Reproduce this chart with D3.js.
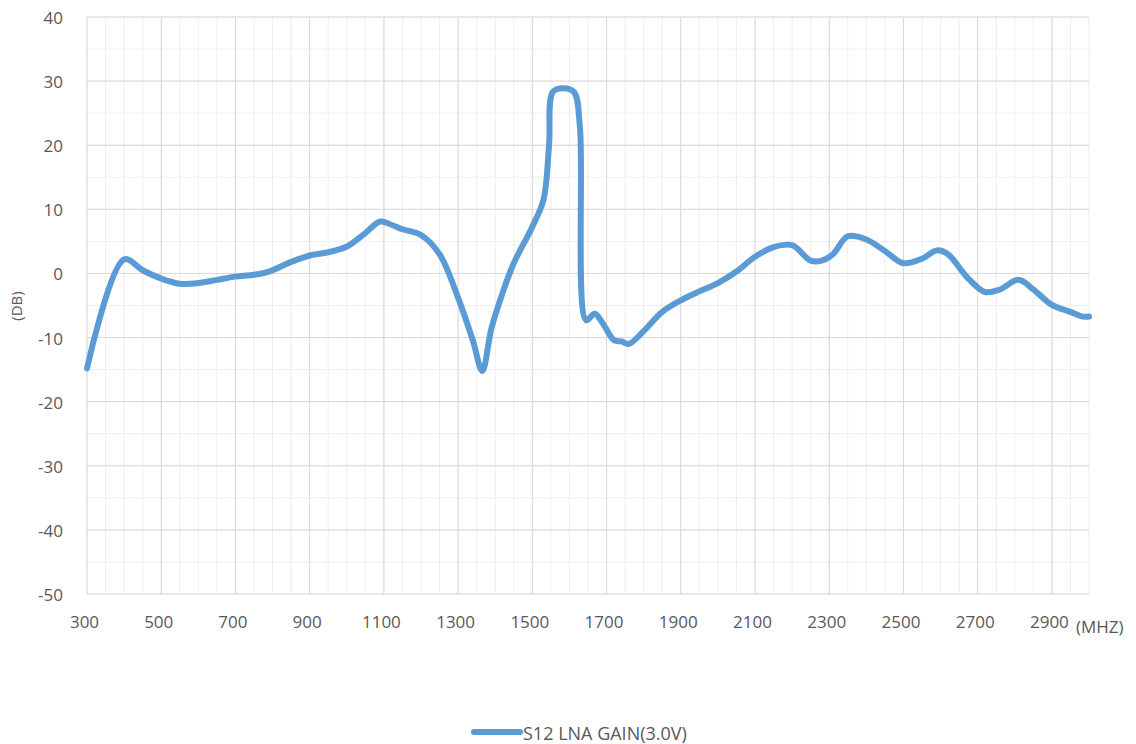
<!DOCTYPE html>
<html>
<head>
<meta charset="utf-8">
<script src="https://d3js.org/d3.v7.min.js"></script>
<title>S12 LNA gain</title>
<style>
body { margin: 0; background: #fff; }
svg { display: block; }
text { font-family: "Open Sans", sans-serif; fill: #595959; }
</style>
</head>
<body>
<svg width="1136" height="744"></svg>
<script>

// frequency (MHz) and gain (dB)
let freqs = [300, 400, 450, 500, 550, 600, 650, 700, 750, 790, 850, 900, 950, 1000, 1050, 1090,
  1120, 1150, 1200, 1250, 1300, 1340, 1365, 1390, 1420, 1450, 1500, 1530, 1545, 1555, 1580,
  1612, 1628, 1645, 1668, 1690, 1720, 1740, 1760, 1800, 1850, 1900, 1950, 2000, 2050, 2100,
  2150, 2200, 2250, 2280, 2310, 2350, 2400, 2450, 2500, 2550, 2590, 2620, 2670, 2720, 2760,
  2810, 2850, 2900, 2950, 2980, 3000];
let gains = [-14.8, 2.2, 0.5, -0.8, -1.6, -1.5, -1.0, -0.5, -0.2, 0.3, 1.8, 2.8, 3.3, 4.2, 6.3, 8.1,
  7.6, 6.9, 6.0, 3.0, -3.8, -10.5, -15.2, -8.5, -3.0, 1.6, 7.3, 11.5, 20, 28.3, 28.9,
  28.3, 23, -7.3, -6.3, -7.8, -10.4, -10.6, -11, -9.0, -6.0, -4.2, -2.8, -1.5, 0.3, 2.6,
  4.1, 4.4, 2.0, 2.0, 3.0, 5.8, 5.3, 3.5, 1.6, 2.3, 3.6, 3.0, -0.5, -2.9, -2.5,
  -1.0, -2.5, -4.9, -6.0, -6.7, -6.7];

let xTicks = [300, 500, 700, 900, 1100, 1300, 1500, 1700, 1900, 2100, 2300, 2500, 2700, 2900];
let yTicks = [40, 30, 20, 10, 0, -10, -20, -30, -40, -50];
let seriesName = "S12 LNA GAIN(3.0V)";

let plotLeft = 87, plotRight = 1089, plotTop = 17, plotBottom = 594;
let blue = "#5b9bd5";

let x = d3.scaleLinear().domain([300, 3000]).range([plotLeft, plotRight]);
let y = d3.scaleLinear().domain([-50, 40]).range([plotBottom, plotTop]);

let svg = d3.select("svg");

// minor grid every 50 MHz / 5 dB
let minorX = d3.range(300, 3001, 50);
let minorY = d3.range(-50, 41, 5);
svg.append("g").selectAll("line").data(minorX).enter().append("line")
  .attr("x1", d => x(d)).attr("x2", d => x(d)).attr("y1", plotTop).attr("y2", plotBottom)
  .attr("stroke", "#eeeeee").attr("stroke-width", 1);
svg.append("g").selectAll("line").data(minorY).enter().append("line")
  .attr("x1", plotLeft).attr("x2", plotRight).attr("y1", d => y(d)).attr("y2", d => y(d))
  .attr("stroke", "#eeeeee").attr("stroke-width", 1);

// major grid
svg.append("g").selectAll("line").data(xTicks).enter().append("line")
  .attr("x1", d => x(d)).attr("x2", d => x(d)).attr("y1", plotTop).attr("y2", plotBottom)
  .attr("stroke", "#d9d9d9").attr("stroke-width", 1);
svg.append("g").selectAll("line").data(yTicks).enter().append("line")
  .attr("x1", plotLeft).attr("x2", plotRight).attr("y1", d => y(d)).attr("y2", d => y(d))
  .attr("stroke", "#d9d9d9").attr("stroke-width", 1);

// axes (labels only, lines drawn by the grid)
let xAxis = d3.axisBottom(x).tickValues(xTicks).tickSize(0).tickPadding(22)
  .tickFormat(d => String(d));
svg.append("g").attr("transform", "translate(-3," + plotBottom + ")").call(xAxis)
  .call(g => g.select(".domain").remove())
  .selectAll("text").style("font-size", "17px").attr("fill", "#595959")
  .style("font-family", "'Open Sans', sans-serif");

let yAxis = d3.axisLeft(y).tickValues(yTicks).tickSize(0).tickPadding(24)
  .tickFormat(d => String(d));
svg.append("g").attr("transform", "translate(" + plotLeft + ",1)").call(yAxis)
  .call(g => g.select(".domain").remove())
  .selectAll("text").style("font-size", "17px").attr("fill", "#595959")
  .style("font-family", "'Open Sans', sans-serif");

// unit labels
svg.append("text").attr("transform", "translate(22,306) rotate(-90)")
  .attr("text-anchor", "middle").style("font-size", "15px").text("(DB)");
svg.append("text").attr("x", 1076).attr("y", 633)
  .style("font-size", "17px").text("(MHZ)");

// the series
let pts = freqs.map((f, i) => [f, gains[i]]);
let line = d3.line().x(d => x(d[0])).y(d => y(d[1])).curve(d3.curveCatmullRom.alpha(0.5));
svg.append("path").datum(pts)
  .attr("d", line)
  .attr("fill", "none")
  .attr("stroke", blue)
  .attr("stroke-width", 6)
  .attr("stroke-linejoin", "round")
  .attr("stroke-linecap", "round");

// legend
svg.append("line").attr("x1", 474).attr("x2", 520).attr("y1", 732).attr("y2", 732)
  .attr("stroke", blue).attr("stroke-width", 6).attr("stroke-linecap", "round");
svg.append("text").attr("x", 523).attr("y", 740)
  .style("font-size", "18px").text(seriesName);

</script>
</body>
</html>
